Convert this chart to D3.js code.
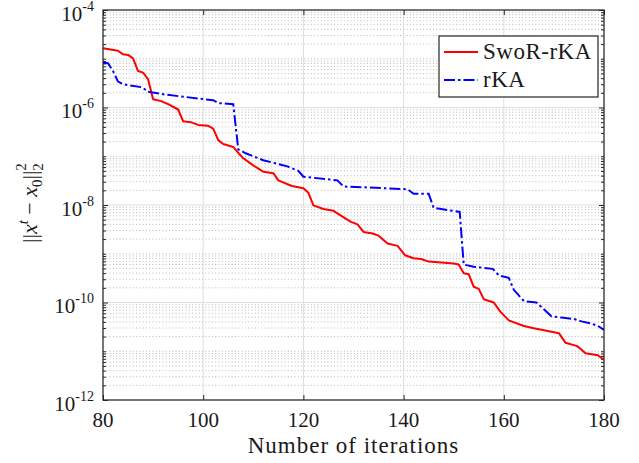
<!DOCTYPE html>
<html><head><meta charset="utf-8">
<script src="https://cdn.jsdelivr.net/npm/d3@7"></script>
<style>
body{margin:0;background:#fff}
svg{display:block}
</style></head>
<body><svg id="c" width="639" height="463"></svg>
<script>
// ---- data ----
const iterSwoR = [80,83,84,85,86,87,88,89,90,91.6,93,95,96,97.5,99,101,102,103,104,106,107,108,110,111.5,112,114,115,117.7,120,121,122,124,126,127.8,129.5,130.8,132,133.8,135,136.8,138.8,140.3,142,143.5,145,147.5,150,151,152,153,154,155,156,158,159.3,161,164,166,168.8,171,172.3,174.5,175,176.3,178.8,180];
const errSwoR  = [1.64e-5,1.46e-5,1.23e-5,1.20e-5,1.02e-5,5.6e-6,5.2e-6,3.8e-6,1.48e-6,1.35e-6,1.17e-6,9.1e-7,5.2e-7,5.0e-7,4.4e-7,4.2e-7,3.7e-7,2.14e-7,1.78e-7,1.55e-7,1.17e-7,9.1e-8,6.5e-8,5.2e-8,4.8e-8,4.5e-8,3.2e-8,2.45e-8,2.2e-8,1.78e-8,9.8e-9,8.3e-9,7.6e-9,5.8e-9,4.5e-9,4.0e-9,2.8e-9,2.6e-9,2.35e-9,1.62e-9,1.45e-9,9.3e-10,8.1e-10,7.8e-10,6.9e-10,6.6e-10,6.3e-10,6.0e-10,4.0e-10,3.8e-10,2.1e-10,1.9e-10,1.17e-10,1.0e-10,6.5e-11,4.3e-11,3.3e-11,2.95e-11,2.6e-11,2.35e-11,1.5e-11,1.29e-11,1.2e-11,9.1e-12,8.3e-12,6.6e-12];
const iterRKA  = [80,81,82,83,84,87.8,89,92.8,102,103,106,107,108.5,112,116.8,119,120,126.8,128,136.8,140.8,142,145,146,148.8,151.2,152,154,157.8,159,161,162,164,166.5,167.5,169.5,171.5,174,175.5,177.5,178.8,180];
const errRKA   = [8.3e-6,8.1e-6,5.6e-6,3.4e-6,3.0e-6,2.6e-6,2.1e-6,1.82e-6,1.41e-6,1.23e-6,1.17e-6,1.38e-7,1.15e-7,8.3e-8,6.2e-8,5.0e-8,3.8e-8,3.2e-8,2.4e-8,2.2e-8,2.1e-8,1.7e-8,1.7e-8,8.7e-9,7.9e-9,7.2e-9,6.0e-10,5.4e-10,4.9e-10,3.6e-10,3.2e-10,1.82e-10,1.07e-10,1.0e-10,8.1e-11,5.2e-11,4.9e-11,4.6e-11,4.1e-11,3.7e-11,3.3e-11,2.75e-11];
const xTicks = [80,100,120,140,160,180];
const yTickExps = [-4,-6,-8,-10,-12];
const legendLabels = ["SwoR-rKA","rKA"];
const xLabel = "Number of iterations";

// ---- layout ----
const FONT = "Liberation Serif";
const svg = d3.select("#c");
const L=103, R=604, T=10, B=400;
const x = d3.scaleLinear().domain([80,180]).range([L,R]);
const y = d3.scaleLog().domain([1e-12,1e-4]).range([B,T]);

const majorY = yTickExps.map(e=>Math.pow(10,e));
const minorY = [];
for(let d=-12; d<=-5; d++){
  for(let k=1;k<=9;k++){
    if(k===1 && d%2===0) continue;
    minorY.push(k*Math.pow(10,d));
  }
}

svg.append("rect").attr("x",L).attr("y",T).attr("width",R-L).attr("height",B-T).attr("fill","#fff");

// minor grid
svg.append("g").selectAll("line").data(minorY).join("line")
  .attr("x1",L).attr("x2",R).attr("y1",d=>y(d)).attr("y2",d=>y(d))
  .attr("stroke","#b8b8b8").attr("stroke-width",1).attr("stroke-dasharray","1,2.3");

// major grid
svg.append("g").selectAll("line").data(majorY).join("line")
  .attr("x1",L).attr("x2",R).attr("y1",d=>y(d)).attr("y2",d=>y(d))
  .attr("stroke","#dedede").attr("stroke-width",1);
svg.append("g").selectAll("line").data(xTicks).join("line")
  .attr("y1",T).attr("y2",B).attr("x1",d=>x(d)).attr("x2",d=>x(d))
  .attr("stroke","#dedede").attr("stroke-width",1);

const axColor="#262626";
function styleAxis(g){ g.select(".domain").remove(); g.selectAll(".tick line").attr("stroke",axColor); g.selectAll("text").remove(); }
svg.append("g").attr("transform",`translate(0,${B})`).call(d3.axisBottom(x).tickValues(xTicks).tickSize(-5)).call(styleAxis);
svg.append("g").attr("transform",`translate(0,${T})`).call(d3.axisTop(x).tickValues(xTicks).tickSize(-5)).call(styleAxis);
svg.append("g").attr("transform",`translate(${L},0)`).call(d3.axisLeft(y).tickValues(majorY).tickSize(-5)).call(styleAxis);
svg.append("g").attr("transform",`translate(${R},0)`).call(d3.axisRight(y).tickValues(majorY).tickSize(-5)).call(styleAxis);
svg.append("g").attr("transform",`translate(${L},0)`).call(d3.axisLeft(y).tickValues(minorY).tickSize(-3)).call(styleAxis);
svg.append("g").attr("transform",`translate(${R},0)`).call(d3.axisRight(y).tickValues(minorY).tickSize(-3)).call(styleAxis);

// lines
const line = d3.line().x(d=>x(d[0])).y(d=>y(d[1]));
svg.append("clipPath").attr("id","clp").append("rect").attr("x",L).attr("y",T).attr("width",R-L).attr("height",B-T);
svg.append("path").datum(iterSwoR.map((v,i)=>[v,errSwoR[i]])).attr("d",line)
  .attr("fill","none").attr("stroke","#ff0000").attr("stroke-width",2).attr("stroke-linejoin","round").attr("clip-path","url(#clp)");
svg.append("path").datum(iterRKA.map((v,i)=>[v,errRKA[i]])).attr("d",line)
  .attr("fill","none").attr("stroke","#0000ff").attr("stroke-width",2).attr("stroke-dasharray","11,3,2.5,3").attr("clip-path","url(#clp)");

svg.append("rect").attr("x",L).attr("y",T).attr("width",R-L).attr("height",B-T)
  .attr("fill","none").attr("stroke",axColor).attr("stroke-width",1.2);

const txtCol="#1a1a1a";
// x tick labels
svg.append("g").selectAll("text").data(xTicks).join("text")
  .attr("font-family",FONT)
  .attr("x",d=>x(d)).attr("y",427).attr("text-anchor","middle").attr("font-size",21).attr("fill",txtCol).text(d=>d);

// y tick labels
const yl = svg.append("g").selectAll("text").data(yTickExps).join("text")
  .attr("font-family",FONT)
  .attr("x",94).attr("y",d=>y(Math.pow(10,d))+10.7).attr("text-anchor","end").attr("font-size",21).attr("fill",txtCol);
yl.append("tspan").text("10");
yl.append("tspan").attr("font-size",14).attr("dy",-10).text(d=>"-"+(-d));

// x label
svg.append("text").attr("font-family",FONT).attr("x",(L+R)/2).attr("y",453).attr("text-anchor","middle").attr("fill",txtCol)
  .attr("font-size",23).attr("letter-spacing",1).text(xLabel);

// y label
const yt = svg.append("text").attr("font-family",FONT).attr("transform",`translate(37,203) rotate(-90)`)
  .attr("text-anchor","middle").attr("font-size",22).attr("fill",txtCol);
yt.append("tspan").text("||");
yt.append("tspan").attr("font-style","italic").text("x");
yt.append("tspan").attr("font-style","italic").attr("font-size",15).attr("dy",-9).text("t");
yt.append("tspan").attr("dy",9).text(" \u2212 ");
yt.append("tspan").attr("font-style","italic").text("x");
yt.append("tspan").attr("font-size",15).attr("dy",5).text("0");
yt.append("tspan").attr("dy",-5).text("||");
yt.append("tspan").attr("font-size",15).attr("dy",6).text("2");
yt.append("tspan").attr("font-size",15).attr("dx",-7.5).attr("dy",-17).text("2");

// legend
const lg = svg.append("g");
lg.append("rect").attr("x",439).attr("y",36).attr("width",159).attr("height",61)
  .attr("fill","#fff").attr("stroke",axColor).attr("stroke-width",1.2);
const legColors=["#ff0000","#0000ff"], legDash=[null,"11,3,2.5,3"], legY=[52,80];
legendLabels.forEach((lab,i)=>{
  lg.append("line").attr("x1",444).attr("x2",478).attr("y1",legY[i]).attr("y2",legY[i])
    .attr("stroke",legColors[i]).attr("stroke-width",2).attr("stroke-dasharray",legDash[i]);
  lg.append("text").attr("font-family",FONT).attr("x",483).attr("y",legY[i]+6.5).attr("font-size",23).attr("fill",txtCol).attr("letter-spacing",0.5).text(lab);
});
</script></body></html>
